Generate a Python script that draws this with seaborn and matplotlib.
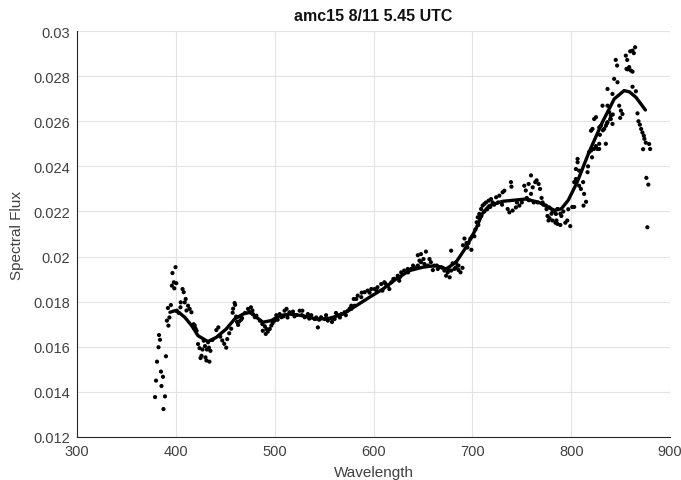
import matplotlib
matplotlib.use("Agg")
import matplotlib.pyplot as plt
import seaborn as sns
import pandas as pd

# scatter samples, split by wavelength band
band1_wl = [379, 387.5, 389, 385.5, 380, 387, 385, 381, 390, 382.5,
            384, 383, 392.5, 391, 393.5, 392, 395,
            399.7, 396.6, 398, 400.5, 396, 398.5, 406.8, 408, 410,
            409, 405, 404.7, 412.4, 414, 415.8, 410.8, 401, 403, 418, 420]
band1_flux = [0.01377, 0.01324, 0.0138, 0.01426, 0.0145, 0.01467, 0.0149, 0.01534, 0.01558, 0.01598,
              0.01631, 0.01652, 0.01694, 0.01716, 0.0173, 0.01772, 0.01785,
              0.01953, 0.01927, 0.01886, 0.01882, 0.01871, 0.01859, 0.01856, 0.01842, 0.01812,
              0.01797, 0.01797, 0.01775, 0.01782, 0.01768, 0.01753, 0.01761, 0.0176, 0.0175, 0.0170, 0.0168]

band2_wl = [419.2, 421, 422.5, 424, 427, 429.5, 431.5, 433.5, 435, 426,
            425, 430, 431, 434, 428.3, 432.6, 437, 441, 443, 445,
            447, 449, 451, 452, 454, 456, 459.5, 460, 458, 457.5,
            461, 464, 463, 467, 462, 466, 470,
            473, 476, 477.5, 474.7, 478, 480, 481.5, 485, 487.5, 490,
            491.6, 493, 488, 491]
band2_flux = [0.01694, 0.01671, 0.01612, 0.01594, 0.01588, 0.01603, 0.01588, 0.01596, 0.01582, 0.0156,
              0.0155, 0.01553, 0.01539, 0.01534, 0.01627, 0.0162, 0.0163, 0.01674, 0.01686, 0.01645,
              0.01628, 0.01613, 0.01596, 0.01634, 0.0166, 0.0168, 0.01794, 0.01786, 0.01769, 0.01751,
              0.01734, 0.01712, 0.01697, 0.01727, 0.0171, 0.0172, 0.0175,
              0.01768, 0.01775, 0.01761, 0.01753, 0.01745, 0.01731, 0.01738, 0.01716, 0.01701, 0.01691,
              0.01679, 0.01667, 0.01671, 0.01657]

band3_wl = [495, 496.6, 498, 500, 501.7, 503, 505, 506.8, 509, 510,
            512, 513, 515, 518.5, 520, 522, 525.3, 527.6, 528, 530.3,
            533.6, 535, 537, 540.4, 542, 543.7, 545, 547, 550.5, 552,
            553.8, 557, 558, 560.6, 562, 564, 566, 567.4, 570.7, 572,
            574, 576, 577.5, 580]
band3_flux = [0.01679, 0.01694, 0.01705, 0.01716, 0.0174, 0.0172, 0.01745, 0.01731, 0.01735, 0.0176,
              0.01768, 0.0173, 0.01753, 0.01756, 0.01735, 0.01741, 0.0176, 0.0174, 0.0176, 0.01731,
              0.01745, 0.01725, 0.0174, 0.01723, 0.0173, 0.01686, 0.0172, 0.01731, 0.01723, 0.0174,
              0.01716, 0.01726, 0.0171, 0.01723, 0.0175, 0.0174, 0.0173, 0.01745, 0.01753, 0.0174,
              0.0176, 0.0177, 0.01782, 0.01812]

band4_wl = [577.5, 580.8, 582.5, 584, 587.6, 588, 591, 594, 596, 597.7,
            601, 603, 604, 607.8, 609, 611, 612, 614.5, 616, 618,
            620, 621, 624.5, 626, 627, 628, 631, 634.6, 635, 638,
            640, 641, 644.8, 644.8, 646.5, 648, 648, 650.5, 651.5, 653,
            655, 656.6, 658, 660, 661.6, 664, 665, 668.4, 670, 671.7,
            673.4, 675, 676, 677, 678.5, 678.5, 681.8, 683.5, 685, 686]
band4_flux = [0.01768, 0.01782, 0.01812, 0.01827, 0.0182, 0.0184, 0.01842, 0.01849, 0.0184, 0.01856,
              0.01856, 0.0185, 0.01864, 0.01878, 0.01849, 0.01886, 0.0188, 0.01871, 0.01856, 0.01886,
              0.0190, 0.01901, 0.01915, 0.01893, 0.0191, 0.0193, 0.01938, 0.01945, 0.0193, 0.01945,
              0.0196, 0.01953, 0.0196, 0.02006, 0.01982, 0.01975, 0.02011, 0.01989, 0.01967, 0.02022,
              0.0196, 0.01989, 0.01975, 0.0194, 0.0196, 0.0196, 0.01945, 0.01953, 0.0195, 0.01938,
              0.01915, 0.0193, 0.0194, 0.01908, 0.01938, 0.02026, 0.01945, 0.01975, 0.0196, 0.0194]

band5_wl = [680, 683, 686, 688, 690, 690.5, 692, 694, 695, 696,
            698, 699, 700, 702, 703, 704.3, 705.4, 706, 707, 708.8,
            709, 710.4, 712, 712, 713.8, 715, 716.5, 718, 718.9, 720.5,
            722, 724, 726, 727.3, 730, 730.6, 732.3, 735.7, 737.4, 739,
            739.5, 740.7, 744, 745, 747.5, 750, 752.5, 754, 755, 756.9,
            757, 759.3, 759.3, 761, 762, 763.6, 765, 766, 767, 768.4,
            770, 771, 772, 774.4, 775, 776, 777, 777.8, 778, 780,
            781, 781, 783, 784, 784.5, 785, 786, 786, 789, 789,
            790, 792, 794, 796, 797, 799]
band5_flux = [0.0197, 0.0195, 0.0196, 0.0193, 0.0195, 0.0205, 0.0208, 0.0206, 0.0204, 0.0206,
              0.0208, 0.0203, 0.0209, 0.0209, 0.0212, 0.02152, 0.02174, 0.0214, 0.02189, 0.02211,
              0.0218, 0.02226, 0.02233, 0.0220, 0.0224, 0.0221, 0.02248, 0.0222, 0.02255, 0.0224,
              0.0223, 0.02263, 0.0224, 0.0227, 0.0223, 0.02285, 0.02292, 0.02211, 0.02196, 0.0233,
              0.0231, 0.02204, 0.02218, 0.0224, 0.02226, 0.0224, 0.02314, 0.02293, 0.0226, 0.02322,
              0.0225, 0.0236, 0.02278, 0.02307, 0.0224, 0.0233, 0.02338, 0.0224, 0.02322, 0.023,
              0.0226, 0.0224, 0.0223, 0.02226, 0.0221, 0.0218, 0.0216, 0.02218, 0.0217, 0.0219,
              0.02204, 0.0216, 0.0220, 0.0215, 0.02189, 0.0216, 0.02211, 0.02145, 0.0219, 0.0214,
              0.0218, 0.0220, 0.0215, 0.0216, 0.0221, 0.02135]

band6_wl = [801, 803, 803, 804.7, 804.7, 806.4, 806.4, 808, 808, 809.8,
            812, 812.4, 813, 815, 816.5, 817, 818, 820, 820, 821,
            821.5, 823, 823.2, 825, 825, 826.6, 828.3, 828.3, 828.3, 829,
            830, 831.6, 832, 833.3, 835, 835, 836, 836.7, 836.7, 836.7,
            838.4, 839.4, 840, 840, 841.7, 841.7, 842, 843.4, 845, 846.4,
            846.8, 848.5, 849.5, 850.2, 851.8, 855.2, 855.9, 856.6, 857, 858.6,
            859.6, 860.3, 862, 862, 862, 863.3, 864.6, 865.4, 867, 868,
            869.4, 870.7, 872, 872.7, 873.4, 874, 875.4, 876, 877, 878,
            878.8, 879.8]
band6_flux = [0.0222, 0.0222, 0.0233, 0.02344, 0.02388, 0.02433, 0.02418, 0.02381, 0.02314, 0.023,
              0.0233, 0.02226, 0.02278, 0.02243, 0.02374, 0.0240, 0.02463, 0.0247, 0.02558, 0.0244,
              0.02566, 0.02477, 0.0261, 0.02618, 0.0249, 0.02477, 0.025, 0.02573, 0.02477, 0.0254,
              0.0258, 0.02669, 0.0256, 0.02566, 0.025, 0.0258, 0.0259, 0.02596, 0.02743, 0.02669,
              0.0264, 0.0261, 0.02625, 0.0261, 0.02721, 0.02588, 0.0263, 0.02788, 0.02872, 0.02847,
              0.02773, 0.02669, 0.02615, 0.02647, 0.02632, 0.02891, 0.02832, 0.02872, 0.0283, 0.0284,
              0.0291, 0.02825, 0.02913, 0.0282, 0.02753, 0.02902, 0.02928, 0.02733, 0.02635, 0.026,
              0.02585, 0.02566, 0.0255, 0.02476, 0.02536, 0.02522, 0.02505, 0.02349, 0.0213, 0.02319,
              0.02499, 0.02477]

# smoothed fit (thick black line)
fit_wl = [394, 399, 403, 409, 416, 422.5, 432.5, 441, 451, 459.5,
          468, 475, 481.5, 488, 496.5, 505, 515, 528.5, 542, 555.5,
          569, 582.5, 596, 609.5, 623, 636.5, 650, 663, 673.5, 683.5,
          693.5, 703.5, 710, 717, 730.5, 754, 767.5, 783, 790, 797,
          806, 818, 831.5, 843.5, 853.5, 859, 865.5, 875]
fit_flux = [0.01753, 0.0176, 0.01753, 0.01731, 0.01694, 0.01649, 0.01623, 0.01642, 0.01679, 0.01723,
            0.01745, 0.01753, 0.01731, 0.01709, 0.01716, 0.01738, 0.01745, 0.01738, 0.01723, 0.01726,
            0.01745, 0.01782, 0.0182, 0.01856, 0.01901, 0.01938, 0.01953, 0.0196, 0.01945, 0.01975,
            0.02041, 0.02122, 0.0219, 0.02226, 0.02245, 0.02255, 0.0224, 0.02205, 0.02212, 0.0225,
            0.0233, 0.02463, 0.02596, 0.02699, 0.02736, 0.0273, 0.02706, 0.0265]

x_ticks = [300, 400, 500, 600, 700, 800, 900]
y_ticks = [0.012, 0.014, 0.016, 0.018, 0.02, 0.022, 0.024, 0.026, 0.028, 0.03]
y_labels = ["0.012", "0.014", "0.016", "0.018", "0.02", "0.022", "0.024", "0.026", "0.028", "0.03"]

points = pd.DataFrame({
    "wl": band1_wl + band2_wl + band3_wl + band4_wl + band5_wl + band6_wl,
    "flux": band1_flux + band2_flux + band3_flux + band4_flux + band5_flux + band6_flux,
})
fit = pd.DataFrame({"wl": fit_wl, "flux": fit_flux})

sns.set_theme(style="whitegrid")
plt.rcParams["font.family"] = ["Liberation Sans", "DejaVu Sans"]

fig = plt.figure(figsize=(6.81, 4.81), dpi=100)
ax = fig.add_axes([0.113, 0.0894, 0.871, 0.844])

sns.scatterplot(data=points, x="wl", y="flux", ax=ax, color="black", s=9,
                edgecolor="none", linewidth=0, zorder=3)
sns.lineplot(data=fit, x="wl", y="flux", ax=ax, color="black", lw=2.4,
             sort=False, estimator=None, zorder=4)

ax.set_xlim(300, 900)
ax.set_ylim(0.012, 0.03)
ax.set_xticks(x_ticks)
ax.set_yticks(y_ticks)
ax.set_yticklabels(y_labels)

ax.grid(True, color="#e3e3e3", lw=0.8)
ax.set_facecolor("white")
for side in ["top", "right"]:
    ax.spines[side].set_visible(False)
for side in ["left", "bottom"]:
    ax.spines[side].set_color("#262626")
    ax.spines[side].set_linewidth(0.8)
ax.tick_params(direction="in", length=4, width=0.8, color="#262626",
               labelcolor="#404040", labelsize=10.5, pad=5)

ax.set_title("amc15 8/11 5.45 UTC", fontsize=11.5, fontweight="bold", color="#111111", pad=8)
ax.set_xlabel("Wavelength", fontsize=11, color="#404040")
ax.set_ylabel("Spectral Flux", fontsize=11, color="#404040")
ax.xaxis.set_label_coords(0.5, -0.07)
ax.yaxis.set_label_coords(-0.09, 0.5)

fig.savefig("out.png", dpi=100)
